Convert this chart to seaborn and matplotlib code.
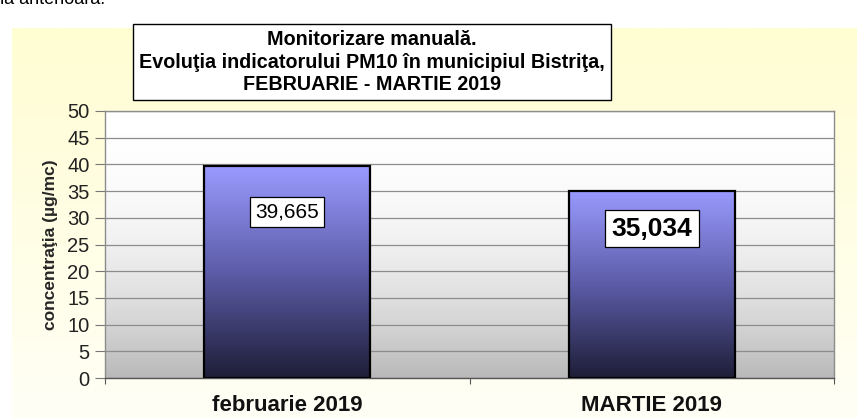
import numpy as np
import matplotlib
matplotlib.use("Agg")
import matplotlib.pyplot as plt
import seaborn as sns
from matplotlib.colors import LinearSegmentedColormap

# =========================================
# DATA
# =========================================
luni = ["februarie 2019", "MARTIE 2019"]
pm10 = [39.665, 35.034]
titlu = ("Monitorizare manuală.\n"
         "Evoluţia indicatorului PM10 în municipiul Bistriţa,\n"
         "FEBRUARIE - MARTIE 2019")
eticheta_y = "concentraţia (µg/mc)"
y_ticks = list(range(0, 55, 5))

sns.set_theme(style="white")
plt.rcParams["font.family"] = ["Liberation Sans", "DejaVu Sans"]

W, H = 857, 418
fig = plt.figure(figsize=(W / 100, H / 100), dpi=100)
fig.patch.set_facecolor("white")

# yellow panel behind the chart
bg = fig.add_axes([12 / W, 0, (W - 12) / W, (H - 28) / H])
bg.set_axis_off()
panel = LinearSegmentedColormap.from_list("panel", ["#fffff6", "#fffdd2"])
bg.imshow(np.linspace(0, 1, 256).reshape(-1, 1), cmap=panel, aspect="auto",
          origin="lower", extent=[0, 1, 0, 1])
bg.set_xlim(0, 1)
bg.set_ylim(0, 1)

# main axes
ax = fig.add_axes([105 / W, (H - 378) / H, (834 - 105) / W, (378 - 111) / H])
ax.set_zorder(2)
ax.patch.set_visible(False)

sns.barplot(x=luni, y=pm10, ax=ax, width=0.455, color="#8888ee",
            edgecolor="black", linewidth=1.6, zorder=3)

# plot area gradient (white top, grey bottom)
g = (1 - np.linspace(0, 1, 256)) ** 2.2
plot_cmap = LinearSegmentedColormap.from_list("plotbg", ["#ffffff", "#b9b9b9"])
ax.imshow(g.reshape(-1, 1), cmap=plot_cmap, aspect="auto", origin="lower",
          extent=[-0.5, 1.5, 0, 50], zorder=0, vmin=0, vmax=1)

# gradient fill of the bars
bar_cmap = LinearSegmentedColormap.from_list("bars", ["#1e1e38", "#5c5ca8", "#9a9aff"])
grad = np.linspace(0, 1, 256).reshape(-1, 1)
for bar in ax.patches:
    x0, w, h = bar.get_x(), bar.get_width(), bar.get_height()
    im = ax.imshow(grad, cmap=bar_cmap, aspect="auto", origin="lower",
                   extent=[x0, x0 + w, 0, h], zorder=3.5)
    im.set_clip_path(bar)
    bar.set_facecolor("none")
    bar.set_zorder(4)
ax.set_xlim(-0.5, 1.5)
ax.set_ylim(0, 50)

# grid and frame
ax.set_yticks(y_ticks)
ax.yaxis.grid(True, color="#8c8c8c", linewidth=0.9, zorder=1)
ax.set_axisbelow(True)
for s in ax.spines.values():
    s.set_visible(True)
    s.set_color("#8c8c8c")
    s.set_linewidth(1.0)
ax.spines["bottom"].set_color("#555555")

ax.tick_params(axis="y", left=True, length=7, width=0.8, color="#777777",
               labelsize=14.5, pad=4, labelcolor="#222222")
ax.set_yticklabels([str(t) for t in y_ticks])
ax.tick_params(axis="x", bottom=False, labelsize=16, pad=6)
for lbl in ax.get_xticklabels():
    lbl.set_fontweight("bold")
    lbl.set_color("#111111")
ax.set_xticks([-0.5, 0.5, 1.5], minor=True)
ax.tick_params(axis="x", which="minor", bottom=True, length=4, width=0.8,
               color="#555555", direction="out")

ax.set_xlabel("")
ax.set_ylabel(eticheta_y, fontsize=12.5, fontweight="bold", labelpad=7)

# value labels
stil = [dict(fontsize=15, fontweight="normal"), dict(fontsize=19, fontweight="bold")]
for i, v in enumerate(pm10):
    ax.text(i, v - (8.6 if i == 0 else 7.1), f"{v:.3f}".replace(".", ","),
            ha="center", va="center", color="black", zorder=6, **stil[i],
            bbox=dict(boxstyle="square,pad=0.25", facecolor="white",
                      edgecolor="black", linewidth=0.9))

# title box
fig.text(372 / W, 1 - 62 / H, titlu, ha="center", va="center", fontsize=14.2,
         fontweight="bold", linespacing=1.22, color="black",
         bbox=dict(boxstyle="square,pad=0.3", facecolor="white",
                   edgecolor="black", linewidth=1.0))

# cropped text from the page above the chart
fig.text(-0.012, 1 - 4 / H, "ină anterioară.", ha="left", va="baseline",
         fontsize=13, color="black")

fig.savefig("out.png", dpi=100)
